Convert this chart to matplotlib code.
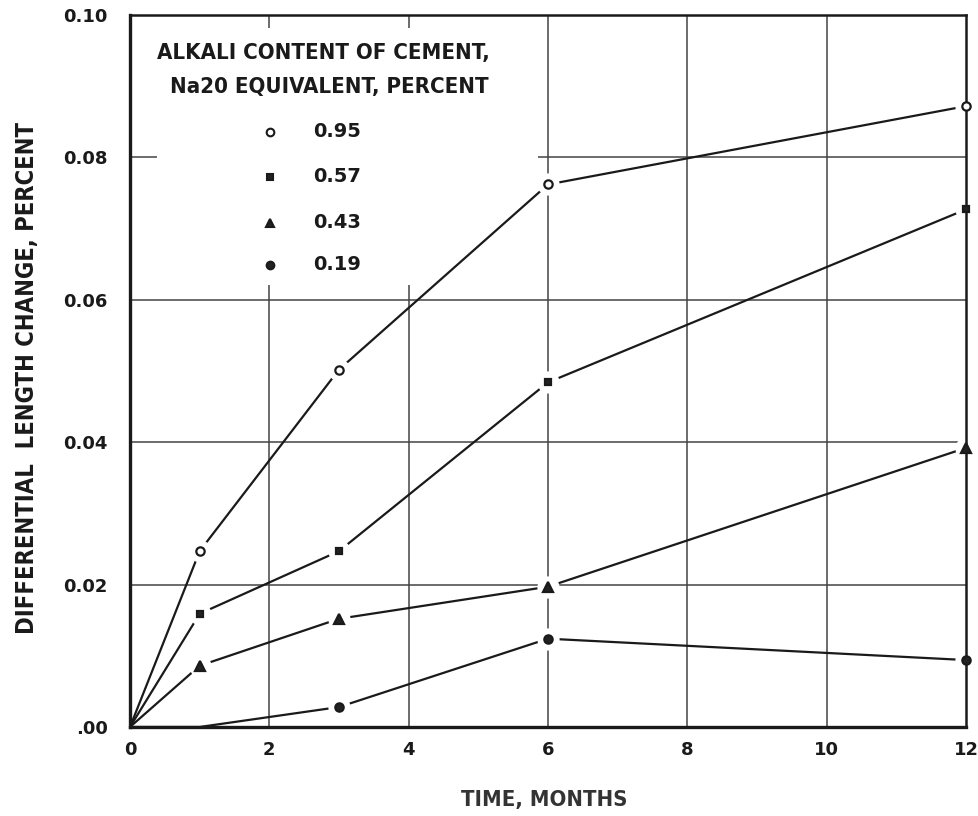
import matplotlib
matplotlib.use("Agg")
import matplotlib.pyplot as plt
from matplotlib.patches import Rectangle

# Expansion of mortar bars vs. time for cements of different alkali content
months = [0, 1, 3, 6, 12]
alkali_labels = ["0.95", "0.57", "0.43", "0.19"]
change_095 = [0.0, 0.0247, 0.0502, 0.0762, 0.0872]
change_057 = [0.0, 0.0159, 0.0247, 0.0484, 0.0727]
change_043 = [0.0, 0.0086, 0.0152, 0.0197, 0.0392]
change_019 = [0.0, 0.0, 0.0028, 0.0124, 0.0094]

x_ticks = [0, 2, 4, 6, 8, 10, 12]
y_ticks = [0.0, 0.02, 0.04, 0.06, 0.08, 0.10]
y_tick_labels = [".00", "0.02", "0.04", "0.06", "0.08", "0.10"]

series = [
    (change_095, "o", "white", 6.0, [1, 2, 3, 4]),
    (change_057, "s", "#222222", 5.0, [1, 2, 3, 4]),
    (change_043, "^", "#222222", 6.5, [1, 2, 3, 4]),
    (change_019, "o", "#222222", 6.0, [2, 3, 4]),
]

font = "DejaVu Sans"

fig = plt.figure(figsize=(9.79, 8.16), dpi=100)
ax = fig.add_axes([0.1328, 0.1091, 0.8539, 0.8725])
ax.set_xlim(0, 12)
ax.set_ylim(0, 0.10)

ink = "#1a1a1a"

# grid
for xv in x_ticks[1:-1]:
    ax.axvline(xv, color="#444444", lw=1.1, zorder=1)
for yv in y_ticks[1:-1]:
    ax.axhline(yv, color="#444444", lw=1.1, zorder=1)

# blank panel behind the key
ax.add_patch(Rectangle((0.032, 0.6208), 0.456, 0.3609, transform=ax.transAxes,
                       facecolor="white", edgecolor="none", zorder=1.5))

for vals, mk, fc, ms, idx in series:
    ax.plot(months, vals, color=ink, lw=1.6, zorder=2, solid_capstyle="butt")
    # white halo breaking the line around each plotted point
    ax.plot([months[i] for i in idx], [vals[i] for i in idx], linestyle="none",
            marker="o", ms=16, mfc="white", mec="none", zorder=3, clip_on=False)
    ax.plot([months[i] for i in idx], [vals[i] for i in idx], linestyle="none",
            marker=mk, ms=ms, mfc=fc, mec=ink, mew=1.6, zorder=5, clip_on=False)

for side in ["left", "bottom"]:
    ax.spines[side].set_linewidth(2.4)
for side in ["top", "right"]:
    ax.spines[side].set_linewidth(1.8)
for sp in ax.spines.values():
    sp.set_color(ink)
    sp.set_zorder(4)

ax.set_xticks(x_ticks)
ax.set_xticklabels([str(v) for v in x_ticks])
ax.set_yticks(y_ticks)
ax.set_yticklabels(y_tick_labels)
ax.tick_params(axis="both", length=0, labelsize=13, colors=ink)
ax.tick_params(axis="x", pad=10)
ax.tick_params(axis="y", pad=16)
for lab in ax.get_xticklabels() + ax.get_yticklabels():
    lab.set_fontweight("bold")
    lab.set_family(font)

ax.set_ylabel("DIFFERENTIAL  LENGTH CHANGE, PERCENT", fontsize=17,
              fontweight="bold", family=font, fontstretch="condensed",
              color=ink, va="center")
ax.yaxis.set_label_coords(-0.123, 0.49)
ax.set_xlabel("TIME, MONTHS", fontsize=15.8, fontweight="bold", family=font,
              fontstretch="condensed", color="#333333", va="center")
ax.xaxis.set_label_coords(0.496, -0.1025)

# key
ax.text(0.2314, 0.9466, "ALKALI CONTENT OF CEMENT,", transform=ax.transAxes,
        ha="center", va="center", fontsize=15.9, fontweight="bold", family=font,
        fontstretch="condensed", color=ink, zorder=6)
ax.text(0.238, 0.8989, "Na20 EQUIVALENT, PERCENT", transform=ax.transAxes,
        ha="center", va="center", fontsize=15.9, fontweight="bold", family=font,
        fontstretch="condensed", color=ink, zorder=6)
key_rows = [0.8357, 0.7725, 0.708, 0.649]
key_sizes = [5.5, 4.5, 5.5, 5.5]
for (vals, mk, fc, ms, idx), lab, ky, ks in zip(series, alkali_labels, key_rows, key_sizes):
    ax.plot([0.1675], [ky], transform=ax.transAxes, linestyle="none", marker=mk,
            ms=ks, mfc=fc, mec=ink, mew=1.5, zorder=6, clip_on=False)
    ax.text(0.219, ky, lab, transform=ax.transAxes, ha="left", va="center",
            fontsize=14, fontweight="bold", family=font, color=ink, zorder=6)

fig.savefig("out.png", dpi=100, facecolor="white")
